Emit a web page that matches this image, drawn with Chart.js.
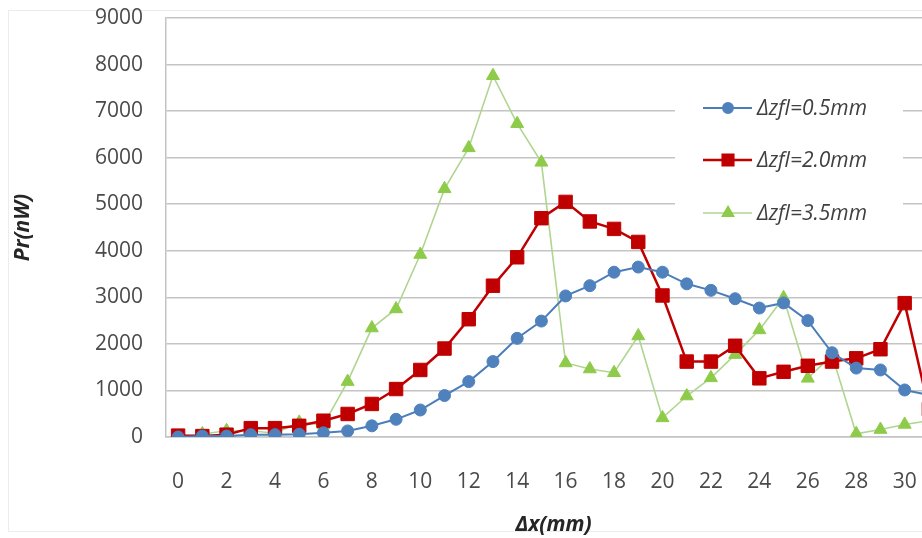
<!DOCTYPE html>
<html>
<head>
<meta charset="utf-8">
<script src="https://cdn.jsdelivr.net/npm/chart.js@4.4.1/dist/chart.umd.min.js"></script>
<style>
  html, body { margin: 0; padding: 0; background: #fff; overflow: hidden; }
  #wrap { width: 960px; height: 538px; position: relative; }
</style>
</head>
<body>
<div id="wrap"><canvas id="chartPr"></canvas></div>
<script>
// delta x (mm), one category per measurement
var categories = ['0','1','2','3','4','5','6','7','8','9','10','11','12','13','14','15',
                  '16','17','18','19','20','21','22','23','24','25','26','27','28','29','30','31'];

var seriesNames = ['\u0394zfl=0.5mm', '\u0394zfl=2.0mm', '\u0394zfl=3.5mm'];

// Pr (nW)
var prZfl05 = [0, 20, 20, 50, 50, 60, 90, 130, 240, 380, 580, 890, 1190, 1620, 2120, 2490,
               3030, 3250, 3540, 3650, 3540, 3290, 3150, 2970, 2770, 2880, 2500, 1810, 1480, 1440, 1010, 900];
var prZfl20 = [30, 20, 50, 190, 190, 240, 350, 495, 710, 1030, 1440, 1900, 2530, 3250, 3860, 4700,
               5050, 4630, 4470, 4190, 3040, 1620, 1620, 1960, 1260, 1400, 1530, 1620, 1690, 1885, 2875, 600];
var prZfl35 = [0, 65, 135, 135, 80, 315, 260, 1190, 2340, 2750, 3920, 5330, 6210, 7760, 6730, 5900,
               1590, 1460, 1380, 2170, 410, 880, 1270, 1770, 2300, 2990, 1260, 1760, 70, 160, 270, 350];

var yTicks = [0, 1000, 2000, 3000, 4000, 5000, 6000, 7000, 8000, 9000];

var textColor = '#4a4a4a';
var gridColor = '#c4c4c4';

var styles = [
    { line: '#4A7EBB', fill: '#4F81BD', point: 'circle', radius: 6, width: 2, legendRadius: 5 },
    { line: '#C00000', fill: '#C00000', point: 'rect', radius: 9.5, width: 2.5, legendRadius: 7.5 },
    { line: '#B0D590', fill: '#8FCB4A', point: 'triangle', radius: 7.5, width: 1.6, legendRadius: 6.5 }
];
var values = [prZfl05, prZfl20, prZfl35];

var datasets = values.map(function (v, i) {
    var s = styles[i];
    return {
        label: seriesNames[i],
        data: v,
        borderColor: s.line,
        borderWidth: s.width,
        backgroundColor: s.fill,
        pointStyle: s.point,
        pointRadius: s.radius,
        pointBackgroundColor: s.fill,
        pointBorderColor: s.fill,
        pointBorderWidth: 1,
        tension: 0
    };
});

// faint outer frame like the spreadsheet chart
var framePlugin = {
    id: 'frame',
    beforeDraw: function (chart) {
        var ctx = chart.ctx;
        ctx.save();
        ctx.strokeStyle = '#ececec';
        ctx.lineWidth = 1;
        ctx.strokeRect(8.5, 10.5, 1000, 521);
        ctx.restore();
    }
};

// legend sitting inside the plot, on a white box over the grid
var legendPlugin = {
    id: 'insideLegend',
    beforeDatasetsDraw: function (chart) {
        var ctx = chart.ctx;
        ctx.save();
        ctx.fillStyle = '#ffffff';
        ctx.fillRect(675, 72, 228, 172);
        var rows = [108, 160, 213];
        ctx.font = 'italic 21px "Open Sans"';
        ctx.textBaseline = 'middle';
        ctx.textAlign = 'left';
        for (var i = 0; i < seriesNames.length; i++) {
            var s = styles[i];
            var y = rows[i];
            ctx.strokeStyle = s.line;
            ctx.lineWidth = s.width;
            ctx.beginPath();
            ctx.moveTo(703, y);
            ctx.lineTo(752, y);
            ctx.stroke();
            ctx.fillStyle = s.fill;
            ctx.strokeStyle = s.fill;
            Chart.helpers.drawPoint(ctx, {
                pointStyle: s.point, radius: s.legendRadius, rotation: 0, borderWidth: 1
            }, 728, y);
            ctx.fillStyle = '#404040';
            ctx.fillText(seriesNames[i], 757, y + 1);
        }
        ctx.restore();
    }
};

var ctx = document.getElementById('chartPr').getContext('2d');
new Chart(ctx, {
    type: 'line',
    data: { labels: categories, datasets: datasets },
    options: {
        responsive: true,
        maintainAspectRatio: false,
        animation: false,
        layout: { padding: { left: 10, top: 18, right: 19, bottom: 0 } },
        plugins: {
            legend: { display: false },
            tooltip: { enabled: false }
        },
        scales: {
            x: {
                type: 'category',
                offset: true,
                grid: { display: true, drawOnChartArea: false, drawTicks: false },
                border: { display: true, color: gridColor, width: 1.5 },
                ticks: {
                    autoSkip: false,
                    maxRotation: 0,
                    padding: 32,
                    color: textColor,
                    font: { family: 'Open Sans', size: 21 },
                    callback: function (val, idx) { return idx % 2 === 0 ? categories[idx] : ''; }
                },
                title: {
                    display: true,
                    text: '\u0394x(mm)',
                    color: '#262626',
                    font: { family: 'Open Sans', size: 21, style: 'italic', weight: 'bold' },
                    padding: { top: 0, bottom: 0 }
                },
                afterFit: function (scale) {
                    scale.height = 538 - 437;
                    scale.paddingLeft = 0;
                    scale.paddingRight = 0;
                }
            },
            y: {
                min: 0,
                max: 9000,
                afterBuildTicks: function (scale) {
                    scale.ticks = yTicks.map(function (v) { return { value: v }; });
                },
                grid: { color: gridColor, lineWidth: 1.5, drawTicks: false },
                border: { display: true, color: gridColor, width: 1.5 },
                ticks: {
                    padding: 23,
                    color: textColor,
                    font: { family: 'Open Sans', size: 21 },
                    callback: function (v) { return String(v); }
                },
                title: {
                    display: true,
                    text: 'Pr(nW)',
                    color: '#262626',
                    font: { family: 'Open Sans', size: 21, style: 'italic', weight: 'bold' },
                    padding: { top: 0, bottom: 0 }
                },
                afterFit: function (scale) {
                    scale.width = 166 - 10;
                    scale.paddingTop = 12;
                    scale.paddingBottom = 0;
                }
            }
        }
    },
    plugins: [framePlugin, legendPlugin]
});
</script>
</body>
</html>
